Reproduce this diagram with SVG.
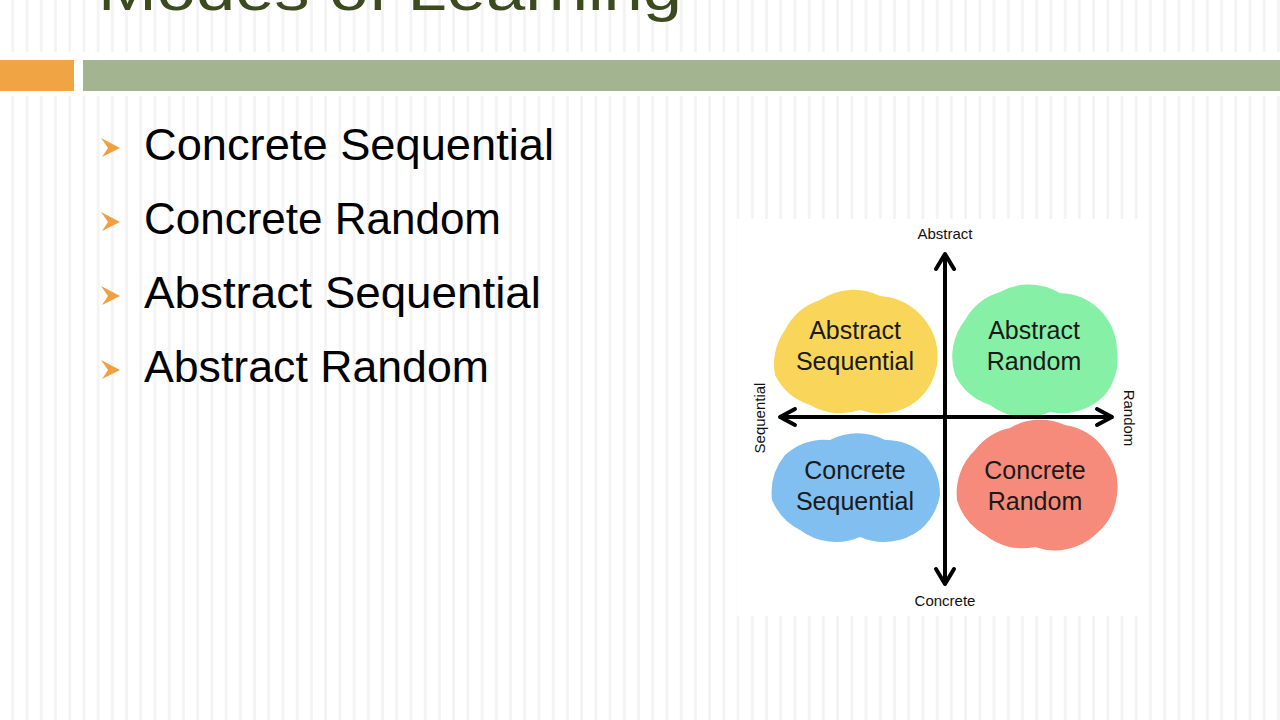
<svg xmlns="http://www.w3.org/2000/svg" width="1280" height="720" viewBox="0 0 1280 720">
<defs>
<pattern id="stripes" x="0" y="0" width="14.22" height="20" patternUnits="userSpaceOnUse">
<rect x="0" y="0" width="14.22" height="20" fill="#ffffff"/>
<rect x="11.5" y="0" width="3.5" height="20" fill="#f3f3f3"/>
</pattern>
<style>
.bt{font-family:"Liberation Sans",Arial,sans-serif;font-size:44px;fill:#000}
.bul{fill:#f0a040}
.ct{font-family:"Liberation Sans",Arial,sans-serif;font-size:25px;fill:#1a1a1a;text-anchor:middle}
.ax{font-family:"Liberation Sans",Arial,sans-serif;font-size:15px;fill:#111;text-anchor:middle}
.axis{stroke:#000;stroke-width:4;fill:none;stroke-linecap:round;stroke-linejoin:round}
</style>
</defs>
<rect x="0" y="0" width="1280" height="720" fill="url(#stripes)"/>
<rect x="0" y="52" width="1280" height="44" fill="#ffffff"/>
<g id="title">
<text x="98" y="10" font-family="'Liberation Sans',Arial,sans-serif" font-size="60" fill="#3c4a1f" textLength="584" lengthAdjust="spacingAndGlyphs">Modes of Learning</text>
</g>
<g id="bars">
<rect x="0" y="60" width="74" height="31" fill="#f0a444"/>
<rect x="83" y="60" width="1197" height="31" fill="#a3b491"/>
</g>
<g id="bullets">
<path class="bul" d="M101,138 L120,148 L102,157 L108,148 Z"/>
<text class="bt" x="144" y="160" textLength="410" lengthAdjust="spacingAndGlyphs">Concrete Sequential</text>
<path class="bul" d="M101,212 L120,222 L102,231 L108,222 Z"/>
<text class="bt" x="144" y="234" textLength="357" lengthAdjust="spacingAndGlyphs">Concrete Random</text>
<path class="bul" d="M101,286 L120,296 L102,305 L108,296 Z"/>
<text class="bt" x="144" y="308" textLength="397" lengthAdjust="spacingAndGlyphs">Abstract Sequential</text>
<path class="bul" d="M101,360 L120,370 L102,379 L108,370 Z"/>
<text class="bt" x="144" y="382" textLength="345" lengthAdjust="spacingAndGlyphs">Abstract Random</text>
</g>
<rect x="737" y="219" width="410" height="397" fill="#ffffff"/>
<g id="node-abstract-sequential">
<path fill="#f9d65a" d="M785,330 A60,60 0 0 1 820,300 A60,60 0 0 1 880,296 A60,60 0 0 1 925,320 A60,60 0 0 1 937,365 A60,60 0 0 1 918,400 A60,60 0 0 1 860,410 A60,60 0 0 1 810,405 A60,60 0 0 1 775,375 A60,60 0 0 1 785,330 Z"/>
<text class="ct" x="855" y="339">Abstract</text>
<text class="ct" x="855" y="370">Sequential</text>
</g>
<g id="node-abstract-random">
<path fill="#86f0a6" d="M965,320 A60,60 0 0 1 1000,292 A60,60 0 0 1 1060,293 A60,60 0 0 1 1100,310 A60,60 0 0 1 1117,350 A60,60 0 0 1 1105,395 A60,60 0 0 1 1050,412 A60,60 0 0 1 990,405 A60,60 0 0 1 955,375 A60,60 0 0 1 965,320 Z"/>
<text class="ct" x="1034" y="339">Abstract</text>
<text class="ct" x="1034" y="370">Random</text>
</g>
<g id="node-concrete-sequential">
<path fill="#80bff0" d="M785,455 A60,60 0 0 1 830,440 A60,60 0 0 1 885,440 A60,60 0 0 1 925,455 A60,60 0 0 1 940,495 A60,60 0 0 1 920,530 A60,60 0 0 1 860,537 A60,60 0 0 1 800,530 A60,60 0 0 1 772,500 A60,60 0 0 1 785,455 Z"/>
<text class="ct" x="855" y="479">Concrete</text>
<text class="ct" x="855" y="510">Sequential</text>
</g>
<g id="node-concrete-random">
<path fill="#f78b7b" d="M975,450 A60,60 0 0 1 1010,428 A60,60 0 0 1 1065,425 A60,60 0 0 1 1105,450 A60,60 0 0 1 1117,495 A60,60 0 0 1 1095,535 A60,60 0 0 1 1035,547 A60,60 0 0 1 985,535 A60,60 0 0 1 957,500 A60,60 0 0 1 975,450 Z"/>
<text class="ct" x="1035" y="479">Concrete</text>
<text class="ct" x="1035" y="510">Random</text>
</g>
<g id="connectors">
<path class="axis" d="M945,256 L945,582"/>
<path class="axis" d="M936,269 L945,254 L954,269"/>
<path class="axis" d="M936,569 L945,584 L954,569"/>
<path class="axis" d="M781,417 L1111,417"/>
<path class="axis" d="M795,409 L780,417 L795,425"/>
<path class="axis" d="M1097,409 L1112,417 L1097,425"/>
</g>
<g id="axis-labels">
<text class="ax" x="945" y="239">Abstract</text>
<text class="ax" x="945" y="606">Concrete</text>
<text class="ax" transform="translate(765,418) rotate(-90)">Sequential</text>
<text class="ax" transform="translate(1124,418) rotate(90)">Random</text>
</g>
</svg>
